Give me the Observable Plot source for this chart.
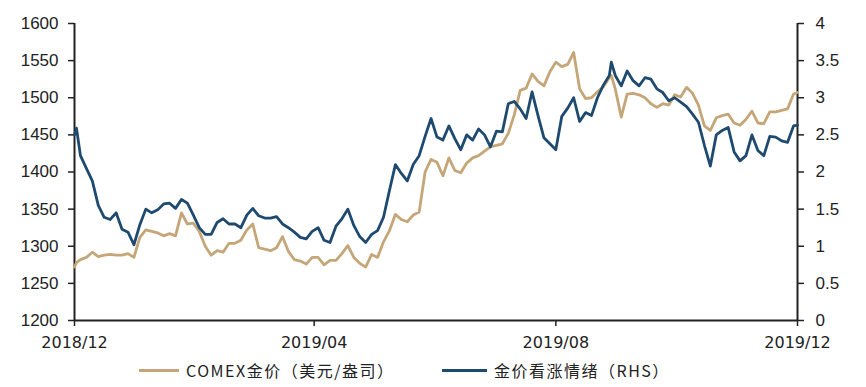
<!DOCTYPE html>
<html><head><meta charset="utf-8">
<script src="https://cdn.jsdelivr.net/npm/d3@7"></script>
<script src="https://cdn.jsdelivr.net/npm/@observablehq/plot@0.6"></script>
<style>
body{margin:0;background:#fff;}
#chart{width:866px;height:387px;position:relative;overflow:hidden;}
.legend{position:absolute;top:358px;left:0;width:866px;height:24px;font-family:"Noto Sans CJK SC";font-size:16px;letter-spacing:1.5px;color:#222;}
.item{position:absolute;top:0;height:24px;display:flex;align-items:center;white-space:nowrap;}
.sw{display:inline-block;height:3px;margin-right:7px;}
</style></head>
<body><div id="chart"></div>
<script>
const dates = [
"2018-12-01","2018-12-02","2018-12-04","2018-12-07","2018-12-10","2018-12-13","2018-12-16","2018-12-19","2018-12-22","2018-12-25","2018-12-28","2018-12-31",
"2019-01-03","2019-01-06","2019-01-09","2019-01-12","2019-01-15","2019-01-18","2019-01-21","2019-01-24","2019-01-27","2019-01-30",
"2019-02-02","2019-02-05","2019-02-08","2019-02-11","2019-02-14","2019-02-17","2019-02-20","2019-02-23","2019-02-26",
"2019-03-01","2019-03-04","2019-03-07","2019-03-10","2019-03-13","2019-03-16","2019-03-19","2019-03-22","2019-03-25","2019-03-28","2019-03-31",
"2019-04-03","2019-04-06","2019-04-09","2019-04-12","2019-04-15","2019-04-18","2019-04-21","2019-04-24","2019-04-27","2019-04-30",
"2019-05-03","2019-05-06","2019-05-09","2019-05-12","2019-05-15","2019-05-18","2019-05-21","2019-05-24","2019-05-27","2019-05-30",
"2019-06-02","2019-06-05","2019-06-08","2019-06-11","2019-06-14","2019-06-17","2019-06-20","2019-06-23","2019-06-26","2019-06-29",
"2019-07-02","2019-07-05","2019-07-08","2019-07-11","2019-07-14","2019-07-17","2019-07-20","2019-07-23","2019-07-26","2019-07-29",
"2019-08-01","2019-08-04","2019-08-07","2019-08-10","2019-08-13","2019-08-16","2019-08-19","2019-08-22","2019-08-25","2019-08-28","2019-08-29","2019-08-31",
"2019-09-03","2019-09-06","2019-09-09","2019-09-12","2019-09-15","2019-09-18","2019-09-21","2019-09-24","2019-09-27","2019-09-30",
"2019-10-03","2019-10-06","2019-10-09","2019-10-12","2019-10-15","2019-10-18","2019-10-21","2019-10-24","2019-10-27","2019-10-30",
"2019-11-02","2019-11-05","2019-11-08","2019-11-11","2019-11-14","2019-11-17","2019-11-20","2019-11-23","2019-11-26","2019-11-29",
"2019-12-01"];

// COMEX gold price (USD/oz), left axis
const gold = [
1272,1278,1282,1285,1292,1286,1288,1289,1288,1288,1290,1285,
1312,1322,1320,1318,1314,1317,1314,1345,1330,1331,
1320,1300,1288,1294,1292,1304,1304,1308,1322,
1330,1298,1296,1294,1298,1313,1293,1282,1280,1276,1285,
1285,1275,1281,1281,1290,1301,1285,1277,1272,1289,
1285,1306,1321,1343,1336,1333,1342,1346,1400,1417,
1413,1395,1419,1402,1399,1412,1419,1422,1428,1434,
1436,1438,1452,1477,1510,1513,1532,1522,1516,1535,
1548,1542,1545,1561,1512,1499,1500,1508,1515,1527,1530,1512,
1474,1505,1506,1504,1500,1492,1487,1492,1490,1504,
1501,1514,1506,1490,1462,1456,1473,1476,1478,1466,
1463,1471,1482,1466,1465,1481,1481,1483,1485,1505,
1507];

// Gold bullish sentiment, right axis (RHS)
const sentiment = [
2.50,2.59,2.22,2.05,1.88,1.55,1.39,1.36,1.45,1.23,1.19,1.02,
1.29,1.50,1.45,1.49,1.57,1.58,1.51,1.63,1.58,1.42,
1.25,1.16,1.16,1.32,1.37,1.30,1.30,1.25,1.42,
1.51,1.41,1.38,1.38,1.40,1.30,1.25,1.19,1.12,1.10,1.20,
1.25,1.08,1.05,1.27,1.37,1.50,1.28,1.13,1.05,1.16,
1.21,1.39,1.75,2.10,1.98,1.88,2.10,2.22,2.48,2.72,
2.47,2.43,2.62,2.45,2.30,2.50,2.43,2.58,2.50,2.34,
2.55,2.54,2.92,2.95,2.85,2.72,3.08,2.76,2.46,2.38,
2.30,2.75,2.86,3.00,2.68,2.80,2.76,3.00,3.17,3.30,3.48,3.30,
3.16,3.36,3.23,3.16,3.27,3.25,3.12,3.07,2.96,3.00,
2.94,2.88,2.78,2.67,2.36,2.08,2.50,2.56,2.60,2.27,
2.15,2.22,2.50,2.29,2.22,2.48,2.47,2.42,2.40,2.62,
2.63];

const leftTicks = [1200,1250,1300,1350,1400,1450,1500,1550,1600];
const rightTicks = [0,0.5,1,1.5,2,2.5,3,3.5,4];
const xTicks = ["2018-12-01","2019-04-01","2019-08-01","2019-12-01"];
const xLabels = ["2018/12","2019/04","2019/08","2019/12"];
const seriesNames = ["COMEX金价（美元/盎司）","金价看涨情绪（RHS）"];

const GOLD = "#C4A678", BLUE = "#1F4A70", AXIS = "#222";
const yMin = leftTicks[0], yMax = leftTicks[leftTicks.length-1];
const rMax = rightTicks[rightTicks.length-1];
const toLeft = s => yMin + s * (yMax - yMin) / rMax;

const data = dates.map((d, i) => ({date: new Date(d), gold: gold[i], senti: sentiment[i]}));
const xDom = [new Date(xTicks[0]), new Date(xTicks[xTicks.length-1])];

const plot = Plot.plot({
  width: 866, height: 352,
  marginLeft: 74, marginRight: 69, marginTop: 23, marginBottom: 32,
  x: {type: "utc", domain: xDom},
  y: {domain: [yMin, yMax]},
  style: {background: "#fff", color: AXIS, overflow: "visible"},
  marks: [
    Plot.axisY({ticks: leftTicks, tickFormat: d => String(d), tickSize: 6, tickPadding: 10, label: null, fontSize: 17, fontFamily: "Liberation Sans", stroke: AXIS, strokeWidth: 1.5}),
    Plot.axisY({anchor: "right", ticks: rightTicks.map(toLeft), tickFormat: (d, i) => String(rightTicks[i]), tickSize: 6, tickPadding: 12, label: null, fontSize: 17, fontFamily: "Liberation Sans", stroke: AXIS, strokeWidth: 1.5}),
    Plot.axisX({ticks: xTicks.map(d => new Date(d)), tickFormat: (d, i) => xLabels[i], tickSize: 6, tickPadding: 10, label: null, fontSize: 16, fontFamily: "DejaVu Sans", stroke: AXIS, strokeWidth: 1.5}),
    Plot.ruleX([xDom[0]], {stroke: AXIS, strokeWidth: 2}),
    Plot.ruleX([xDom[1]], {stroke: AXIS, strokeWidth: 2}),
    Plot.ruleY([yMin], {stroke: AXIS, strokeWidth: 2}),
    Plot.line(data, {x: "date", y: "gold", stroke: GOLD, strokeWidth: 2.8, strokeLinejoin: "round"}),
    Plot.line(data, {x: "date", y: d => toLeft(d.senti), stroke: BLUE, strokeWidth: 2.8, strokeLinejoin: "round"})
  ]
});

const chart = document.getElementById("chart");
chart.appendChild(plot);
const legend = document.createElement("div");
legend.className = "legend";
legend.innerHTML =
  `<div class="item" style="left:139px"><span class="sw" style="width:40px;background:${GOLD}"></span>${seriesNames[0]}</div>` +
  `<div class="item" style="left:442px"><span class="sw" style="width:45px;background:${BLUE}"></span>${seriesNames[1]}</div>`;
chart.appendChild(legend);
</script>
</body></html>
